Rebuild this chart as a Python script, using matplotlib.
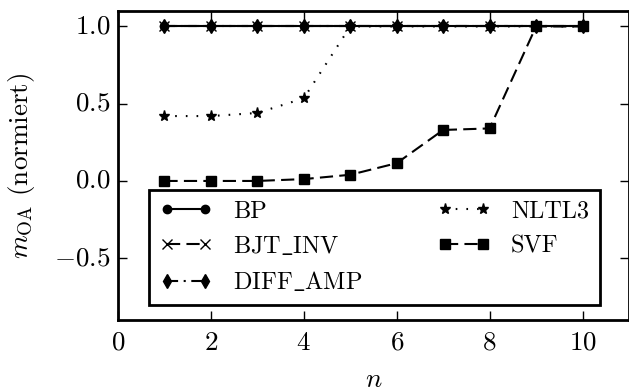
import matplotlib
matplotlib.use("Agg")
import matplotlib.pyplot as plt

plt.style.use("classic")
plt.rcParams.update({
    "font.family": "cmr10",
    "mathtext.fontset": "cm",
    "axes.formatter.use_mathtext": True,
    "figure.facecolor": "white",
    "savefig.facecolor": "white",
    "axes.linewidth": 2.0,
    "legend.numpoints": 2,
})

n = [1, 2, 3, 4, 5, 6, 7, 8, 9, 10]
bp = [1.0, 1.0, 1.0, 1.0, 1.0, 1.0, 1.0, 1.0, 1.0, 1.0]
bjt_inv = [1.0, 1.0, 1.0, 1.0, 1.0, 1.0, 1.0, 1.0, 1.0, 1.0]
diff_amp = [1.0, 1.0, 1.0, 1.0, 1.0, 1.0, 1.0, 1.0, 1.0, 1.0]
nltl3 = [0.42, 0.42, 0.44, 0.535, 1.0, 1.0, 1.0, 1.0, 1.0, 1.0]
svf = [0.0, 0.0, 0.0, 0.012, 0.04, 0.115, 0.33, 0.34, 1.0, 1.0]

labels = ["BP", r"BJT$\_$INV", r"DIFF$\_$AMP", "NLTL3", "SVF"]
series = [bp, bjt_inv, diff_amp, nltl3, svf]
dashed = (0, (9.5, 4.5))
styles = [
    ("-", "o", 6),
    (dashed, "x", 6.5),
    ((0, (8, 4, 1.5, 4)), "d", 7.5),
    ((0, (1.2, 6.5)), "*", 8),
    (dashed, "s", 6.5),
]

fig = plt.figure(figsize=(6.29, 3.92), dpi=100)
ax = fig.add_axes([118 / 629, 72 / 392, 1 - 118 / 629, (320 - 11) / 392])

for y, lab, (ls, mk, ms) in zip(series, labels, styles):
    ax.plot(n, y, color="black", linestyle=ls, marker=mk, linewidth=1.5,
            markersize=ms, markeredgewidth=1.0, label=lab)

ax.set_xlim(0, 11)
ax.set_ylim(-0.9, 1.1)
ax.set_xticks([0, 2, 4, 6, 8, 10])
ax.set_yticks([-0.5, 0.0, 0.5, 1.0])
ax.tick_params(labelsize=19.5, length=6.5, width=1)
ax.tick_params(axis="x", pad=8)
ax.tick_params(axis="y", pad=5.5)
ax.set_xlabel(r"$n$", fontsize=19.5)
ax.set_ylabel(r"$m_{\mathrm{OA}}$ (normiert)", fontsize=19.5)
ax.xaxis.set_label_coords(0.5, -0.155)
ax.yaxis.set_label_coords(-0.158, 0.5)

leg = ax.legend(loc="lower left", ncol=2, fontsize=17.5, frameon=True,
                fancybox=False, mode="expand", borderaxespad=0,
                bbox_to_anchor=(0.0607, 0.0485, 0.8826, 0.3755),
                handlelength=2.15, handletextpad=0.85, borderpad=0.45,
                labelspacing=0.5)
leg.get_frame().set_linewidth(2.0)
leg.get_frame().set_edgecolor("black")

fig.savefig("out.png", dpi=100)
